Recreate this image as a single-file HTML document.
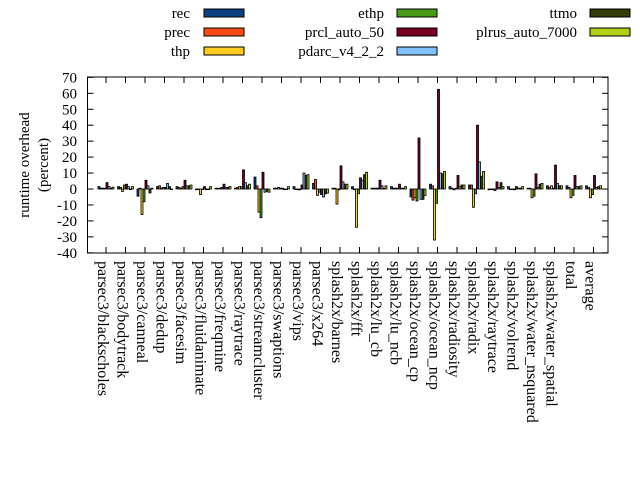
<!DOCTYPE html>
<html><head><meta charset="utf-8"><style>body{margin:0;background:#fff}svg{display:block}</style></head>
<body>
<svg id="s" width="640" height="480" xmlns="http://www.w3.org/2000/svg" font-family="Liberation Serif, serif" font-size="14">
<rect width="640" height="480" fill="#fff"/>
<g id="g"></g>
</svg>
<script>
const NS="http://www.w3.org/2000/svg";const g=document.getElementById('g');
function el(t,a,txt){const e=document.createElementNS(NS,t);for(const k in a)e.setAttribute(k,a[k]);if(txt!==undefined)e.textContent=txt;g.appendChild(e);return e;}
const L=87.5,R=608,T=77,B=253,Z=189,U=1.595;
const cols=["#0a4080","#ff4a14","#ffcc22","#4a9a1a","#750020","#80c0ff","#333d05","#b0d010"];
const names=["parsec3/blackscholes","parsec3/bodytrack","parsec3/canneal","parsec3/dedup","parsec3/facesim","parsec3/fluidanimate","parsec3/freqmine","parsec3/raytrace","parsec3/streamcluster","parsec3/swaptions","parsec3/vips","parsec3/x264","splash2x/barnes","splash2x/fft","splash2x/lu_cb","splash2x/lu_ncb","splash2x/ocean_cp","splash2x/ocean_ncp","splash2x/radiosity","splash2x/radix","splash2x/raytrace","splash2x/volrend","splash2x/water_nsquared","splash2x/water_spatial","total","average"];
const d=[[1.5,0.5,0.5,0.5,4,1.5,0.5,1.2],[1.5,1,-1.5,2.5,3,1.5,0,1.5],[-4.5,0.5,-16,-8,5.5,2,-2.5,0.5],[1.5,2,0.5,1,1,3.5,1.5,0],[1.5,1,0.5,1.5,5.5,2,2,2.5],[-0.5,0,-3.5,0,1.5,0,0,1.5],[0.5,0.5,0.5,1,3,1,1,1.5],[0.5,1,1.5,1.5,12,4,2,3],[7.5,2,-14.5,-18,10.5,-2,-1.5,-2],[0.5,0.5,1,0.5,0.5,0,0,1.5],[1.5,0,-0.5,-0.5,2.5,10,8.5,9],[3.5,6,-4,-2,-3.5,-5,-3,-2.5],[0.5,0.5,-9.5,-0.5,14.5,4.5,3,3],[1.5,0,-24,-3,7,5.5,9,10.5],[0.5,0.5,0.5,0.5,5.5,2,0.5,2],[1.5,0.5,0.5,0.5,3,0.5,0.5,1.5],[-5,-7,-5.5,-7.5,32,-6.5,-6.5,-4],[3,2,-32,-9,62.5,10,9.5,11],[1.5,0.5,-0.5,0.5,8.5,1.5,2.5,2.5],[2.5,2.5,-11.5,-3,40,17,8,11],[-0.5,0,0,-1,4.5,1,4,1.5],[1.5,0,0,-0.5,1.5,0.5,0.5,1.5],[0.5,0.5,-5.5,-4.5,9.5,1,3,3.5],[2,1,2,0.5,15,3.5,2,2],[2,1,-5.5,-4,8.5,1.5,1.5,2],[2,1,-5.5,-3.5,8.5,1,1.5,2]];
for(let v=-40;v<=70;v+=10){const y=Z-v*U;el('line',{x1:L,x2:L+6,y1:y,y2:y,stroke:'#000'});el('line',{x1:R,x2:R-6,y1:y,y2:y,stroke:'#000'});el('text',{x:77,y:y+5,'text-anchor':'end','font-size':15},v);}
d.forEach((vals,i)=>{const c=106+19.5*i;
el('line',{x1:c,x2:c,y1:B,y2:B-6,stroke:'#000'});el('line',{x1:c,x2:c,y1:T,y2:T+6,stroke:'#000'});
vals.forEach((v,j)=>{const x=c-8+2*j;const y0=Math.min(Z,Z-v*U),h=Math.max(Math.abs(v*U),0.6);el('rect',{x:x,y:y0,width:2,height:h,fill:cols[j],stroke:'#000','stroke-width':0.8});});
el('text',{transform:`translate(${c-8},261) rotate(90)`,'font-size':16},names[i]);});
el('rect',{x:L,y:T,width:R-L,height:B-T,fill:'none',stroke:'#000'});
el('text',{transform:'translate(29,165) rotate(-90)','text-anchor':'middle','font-size':15},'runtime overhead');
el('text',{transform:'translate(48,165) rotate(-90)','text-anchor':'middle','font-size':15},'(percent)');
const leg=[["rec",190,204,13],["prec",190,204,32],["thp",190,204,51],["ethp",384,397,13],["prcl_auto_50",384,397,32],["pdarc_v4_2_2",384,397,51],["ttmo",577,590,13],["plrus_auto_7000",577,590,32]];
leg.forEach((l,j)=>{el('text',{x:l[1],y:l[3]+5,'text-anchor':'end','font-size':15},l[0]);el('rect',{x:l[2],y:l[3]-4,width:40,height:8,fill:cols[j],stroke:'#000'});});
</script>
</body></html>
